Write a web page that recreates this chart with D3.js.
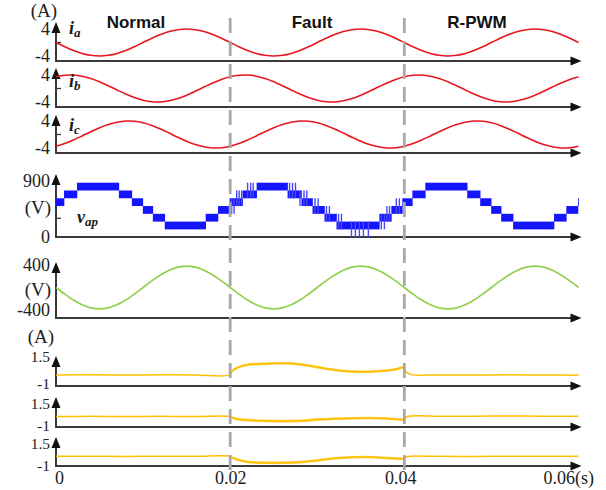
<!DOCTYPE html>
<html>
<head>
<meta charset="utf-8">
<script src="https://cdn.jsdelivr.net/npm/d3@7"></script>
<style>
  body { margin: 0; background: #fff; }
  svg { display: block; }
</style>
</head>
<body>
<svg id="chart" width="606" height="490"></svg>
<script>
// ---------- data (time in ms) ----------
const sampleMs = d3.range(0, 61); // phase-current and grid-voltage samples, every 1 ms

const iaValues = [
  0,-1.24,-2.35,-3.24,-3.80,-4.00,-3.80,-3.24,-2.35,-1.24,0,1.24,2.35,3.24,3.80,4.00,3.80,3.24,2.35,1.24,
  0,-1.24,-2.35,-3.24,-3.80,-4.00,-3.80,-3.24,-2.35,-1.24,0,1.24,2.35,3.24,3.80,4.00,3.80,3.24,2.35,1.24,
  0,-1.24,-2.35,-3.24,-3.80,-4.00,-3.80,-3.24,-2.35,-1.24,0,1.24,2.35,3.24,3.80,4.00,3.80,3.24,2.35,1.24,0
];
const ibValues = [
  3.46,3.91,3.98,3.65,2.97,2.00,0.83,-0.42,-1.63,-2.68,-3.46,-3.91,-3.98,-3.65,-2.97,-2.00,-0.83,0.42,1.63,2.68,
  3.46,3.91,3.98,3.65,2.97,2.00,0.83,-0.42,-1.63,-2.68,-3.46,-3.91,-3.98,-3.65,-2.97,-2.00,-0.83,0.42,1.63,2.68,
  3.46,3.91,3.98,3.65,2.97,2.00,0.83,-0.42,-1.63,-2.68,-3.46,-3.91,-3.98,-3.65,-2.97,-2.00,-0.83,0.42,1.63,2.68,3.46
];
const icValues = [
  -3.46,-2.68,-1.63,-0.42,0.83,2.00,2.97,3.65,3.98,3.91,3.46,2.68,1.63,0.42,-0.83,-2.00,-2.97,-3.65,-3.98,-3.91,
  -3.46,-2.68,-1.63,-0.42,0.83,2.00,2.97,3.65,3.98,3.91,3.46,2.68,1.63,0.42,-0.83,-2.00,-2.97,-3.65,-3.98,-3.91,
  -3.46,-2.68,-1.63,-0.42,0.83,2.00,2.97,3.65,3.98,3.91,3.46,2.68,1.63,0.42,-0.83,-2.00,-2.97,-3.65,-3.98,-3.91,-3.46
];
const gridVoltage = [
  0,-117,-223,-307,-361,-380,-361,-307,-223,-117,0,117,223,307,361,380,361,307,223,117,
  0,-117,-223,-307,-361,-380,-361,-307,-223,-117,0,117,223,307,361,380,361,307,223,117,
  0,-117,-223,-307,-361,-380,-361,-307,-223,-117,0,117,223,307,361,380,361,307,223,117,0
];

// multilevel pole voltage v_ap: staircase (start time, level in V)
const vapStartMs = [0,0.92,2.41,7.22,8.71,9.97,11.12,12.49,17.19,18.6,19.94,
                    21.43,23.04,26.59,28.19,29.46,30.83,32.21,37.13,38.51,39.77,
                    40.92,42.41,47.22,48.71,49.97,51.12,52.49,57.19,58.6,59.94];
const vapLevelV  = [560,685,810,685,560,435,310,185,310,435,560,
                    685,810,685,560,435,310,185,310,435,560,
                    685,810,685,560,435,310,185,310,435,560];
const vapStepV = 125;
// PWM switching pulses between adjacent levels during the fault
const pulseMs    = [20.17,20.45,20.75,21.03,21.32,22.0,22.35,22.64,26.82,27.16,27.5,28.02,28.48,28.8,29.74,30.1,
                    31.06,31.40,32.44,32.78,33.93,34.38,34.84,35.30,35.87,37.36,37.71,38.0,38.3,39.08,39.43];
const pulseFromV = [560,560,560,560,560,685,685,685,685,685,685,560,560,560,435,435,
                    310,310,185,185,185,185,185,185,185,310,310,310,310,435,435];
const pulseToV   = [435,435,685,685,685,810,810,810,810,810,810,685,685,685,560,560,
                    435,435,310,310,60,60,60,60,60,185,185,435,435,560,560];

// lower three current traces (A)
const lowerMs = [0,4,8,12,16,19.9,20.3,20.9,22,24,26,28,30,32,34,36,38,39.2,39.8,40.3,40.8,44,48,52,56,60];
const lower1 = [-0.13,-0.12,-0.14,-0.12,-0.13,-0.12,0.30,0.60,0.85,0.95,0.99,0.90,0.62,0.35,0.20,0.18,0.30,0.45,0.60,0.10,-0.10,-0.13,-0.14,-0.12,-0.13,-0.15];
const lower2 = [-0.18,-0.17,-0.19,-0.17,-0.18,-0.17,-0.30,-0.45,-0.53,-0.60,-0.63,-0.60,-0.48,-0.40,-0.35,-0.33,-0.38,-0.45,-0.47,-0.20,-0.13,-0.15,-0.15,-0.14,-0.15,-0.16];
const lower3 = [-0.26,-0.25,-0.27,-0.25,-0.26,-0.25,-0.40,-0.60,-0.80,-0.88,-0.88,-0.82,-0.66,-0.45,-0.35,-0.33,-0.42,-0.48,-0.50,-0.30,-0.25,-0.26,-0.27,-0.25,-0.26,-0.26];

const xTicks = [0, 0.02, 0.04, 0.06];
const xTickLabels = ["0", "0.02", "0.04", "0.06(s)"];
const eventTimes = [0.02, 0.04];
const modeNames = ["Normal", "Fault", "R-PWM"];

// ---------- layout ----------
const svg = d3.select("#chart");
const X0 = 56, X1 = 578.5;
const x = d3.scaleLinear().domain([0, 0.06]).range([X0, X1]);
const serif = '"Liberation Serif", "Times New Roman", serif';
const numFmt = v => String(v);

const RED = "#e8161d", BLUE = "#1414ff", GREEN = "#92cf4f", YELLOW = "#ffbf00";

function axesFor(axisY, tipY) {
  const g = svg.append("g");
  g.append("line").attr("x1", X0).attr("x2", X1 - 6).attr("y1", axisY).attr("y2", axisY)
    .attr("stroke", "#3a3a3a").attr("stroke-width", 2);
  g.append("path").attr("d", `M${X1 + 3},${axisY} L${X1 - 8},${axisY - 4.5} L${X1 - 8},${axisY + 4.5} Z`)
    .attr("fill", "#111");
  g.append("line").attr("x1", X0).attr("x2", X0).attr("y1", axisY + 1).attr("y2", tipY + 6)
    .attr("stroke", "#3a3a3a").attr("stroke-width", 2);
  g.append("path").attr("d", `M${X0},${tipY} L${X0 - 4.5},${tipY + 11} L${X0 + 4.5},${tipY + 11} Z`)
    .attr("fill", "#111");
  return g;
}

function styleAxisText(g, size) {
  g.attr("font-family", serif).attr("font-size", size || 18);
  g.selectAll(".tick text").attr("fill", "#222");
}

function leftLabels(scale, values, size) {
  const ax = d3.axisLeft(scale).tickValues(values).tickSize(0).tickPadding(6).tickFormat(numFmt);
  const g = svg.append("g").attr("transform", `translate(${X0},0)`).call(ax);
  g.select(".domain").remove();
  styleAxisText(g, size);
  return g;
}

function minorTicks(scale, values) {
  svg.append("g").selectAll("line").data(values).join("line")
    .attr("x1", X0).attr("x2", X0 + 5)
    .attr("y1", d => scale(d)).attr("y2", d => scale(d))
    .attr("stroke", "#3a3a3a").attr("stroke-width", 1.3);
}

function trace(times, values, scale, color, width) {
  const gen = d3.line().x(d => x(d[0] / 1000)).y(d => scale(d[1])).curve(d3.curveCatmullRom);
  return svg.append("path").datum(times.map((t, i) => [t, values[i]]))
    .attr("d", gen).attr("fill", "none").attr("stroke", color)
    .attr("stroke-width", width).attr("stroke-linejoin", "round");
}

function label(txt, xPos, yPos, opts = {}) {
  return svg.append("text").attr("x", xPos).attr("y", yPos)
    .attr("font-family", opts.family || serif).attr("font-size", opts.size || 18)
    .attr("font-weight", opts.weight || "normal").attr("font-style", opts.style || "normal")
    .attr("text-anchor", opts.anchor || "middle").attr("fill", opts.fill || "#222").text(txt);
}

function italicSym(main, sub, xPos, yPos) {
  const t = svg.append("text").attr("x", xPos).attr("y", yPos)
    .attr("font-family", serif).attr("font-style", "italic").attr("font-weight", "bold")
    .attr("font-size", 18).attr("fill", "#1a1a1a");
  t.append("tspan").text(main);
  t.append("tspan").attr("font-size", 13).attr("dy", 3).text(sub);
}

// ---------- phase currents ----------
const currentPanels = [
  { axisY: 61,  tip: 22,  values: iaValues, sub: "a", lx: 69, ly: 34 },
  { axisY: 107, tip: 68,  values: ibValues, sub: "b", lx: 69, ly: 87 },
  { axisY: 153, tip: 115, values: icValues, sub: "c", lx: 69, ly: 131 }
];
currentPanels.forEach(p => {
  const y = d3.scaleLinear().domain([-4, 4]).range([p.axisY - 5, p.axisY - 32]);
  axesFor(p.axisY, p.tip);
  minorTicks(y, [0]);
  leftLabels(y, [-4, 4]);
  trace(sampleMs, p.values, y, RED, 1.6);
  italicSym("i", p.sub, p.lx, p.ly);
});
label("(A)", 44, 17, { size: 19 });

// ---------- v_ap staircase ----------
const yV = d3.scaleLinear().domain([0, 900]).range([237, 181]);
axesFor(237, 174);
minorTicks(yV, [300, 600]);
leftLabels(yV, [0, 900]);
label("(V)", 38, 214, { size: 19 });
const steps = vapStartMs.map((t, i) => ({ t0: t, t1: i + 1 < vapStartMs.length ? vapStartMs[i + 1] : 60, v: vapLevelV[i] }));
svg.append("g").selectAll("rect").data(steps).join("rect")
  .attr("x", d => x(d.t0 / 1000)).attr("width", d => x(d.t1 / 1000) - x(d.t0 / 1000) + 0.3)
  .attr("y", d => yV(d.v + vapStepV / 2)).attr("height", d => yV(d.v - vapStepV / 2) - yV(d.v + vapStepV / 2))
  .attr("fill", BLUE);
const pulses = pulseMs.map((t, i) => ({ t, lo: Math.min(pulseFromV[i], pulseToV[i]), hi: Math.max(pulseFromV[i], pulseToV[i]) }));
svg.append("g").selectAll("rect").data(pulses).join("rect")
  .attr("x", d => x(d.t / 1000) - 0.7).attr("width", 1.4)
  .attr("y", d => yV(d.hi + vapStepV / 2)).attr("height", d => yV(d.lo - vapStepV / 2) - yV(d.hi + vapStepV / 2))
  .attr("fill", "#4848ff");
italicSym("v", "ap", 77, 223);

// ---------- grid voltage ----------
const yG = d3.scaleLinear().domain([-400, 400]).range([310, 265]);
axesFor(318, 262);
leftLabels(yG, [-400, 400]);
label("(V)", 38, 296, { size: 19 });
trace(sampleMs, gridVoltage, yG, GREEN, 1.7);

// ---------- lower current traces ----------
// label centres sit a little inside the tight panels so the stacked numbers don't collide
const lowerPanels = [
  { axisY: 386, tip: 356, values: lower1, topLab: 357,   botLab: 384 },
  { axisY: 427, tip: 397, values: lower2, topLab: 404,   botLab: 426 },
  { axisY: 466, tip: 437, values: lower3, topLab: 443.5, botLab: 466 }
];
label("(A)", 41, 343, { size: 19 });
lowerPanels.forEach(p => {
  const y = d3.scaleLinear().domain([-1, 1.5]).range([p.axisY - 2, p.axisY - 28]);
  axesFor(p.axisY, p.tip);
  const g = leftLabels(y, [-1, 1.5], 15.5);
  g.selectAll(".tick text").attr("y", d => (d === 1.5 ? p.topLab : p.botLab) - y(d));
  trace(lowerMs, p.values, y, YELLOW, 1.5);
  // switching ripple during the fault interval shows as a wider band
  const idx = lowerMs.map((t, i) => i).filter(i => lowerMs[i] >= 20.3 && lowerMs[i] <= 39.8);
  trace(idx.map(i => lowerMs[i]), idx.map(i => p.values[i]), y, YELLOW, 2.6).attr("stroke-opacity", 0.75);
});

// ---------- time axis labels ----------
const xAxis = d3.axisBottom(x).tickValues(xTicks).tickSize(0).tickPadding(5)
  .tickFormat((d, i) => xTickLabels[i]);
const gx = svg.append("g").attr("transform", "translate(0,466)").call(xAxis);
gx.select(".domain").remove();
styleAxisText(gx);
gx.selectAll(".tick").filter(d => d === 0).select("text").attr("dx", 3);
gx.selectAll(".tick").filter(d => d === 0.04).select("text").attr("dx", -4);
gx.selectAll(".tick").filter(d => d === 0.06).select("text").attr("text-anchor", "end").attr("dx", 15);

// ---------- operating-mode titles ----------
const modeX = [136, 312, 477];
modeNames.forEach((n, i) => label(n, modeX[i], 28, { family: '"Liberation Sans", Arial, sans-serif', size: 17, weight: "bold", fill: "#111" }));

// ---------- event markers ----------
svg.append("g").selectAll("line").data(eventTimes).join("line")
  .attr("x1", d => x(d)).attr("x2", d => x(d)).attr("y1", 18).attr("y2", 470)
  .attr("stroke", "#a8a8a8").attr("stroke-width", 2.8).attr("stroke-dasharray", "15,8");
</script>
</body>
</html>
